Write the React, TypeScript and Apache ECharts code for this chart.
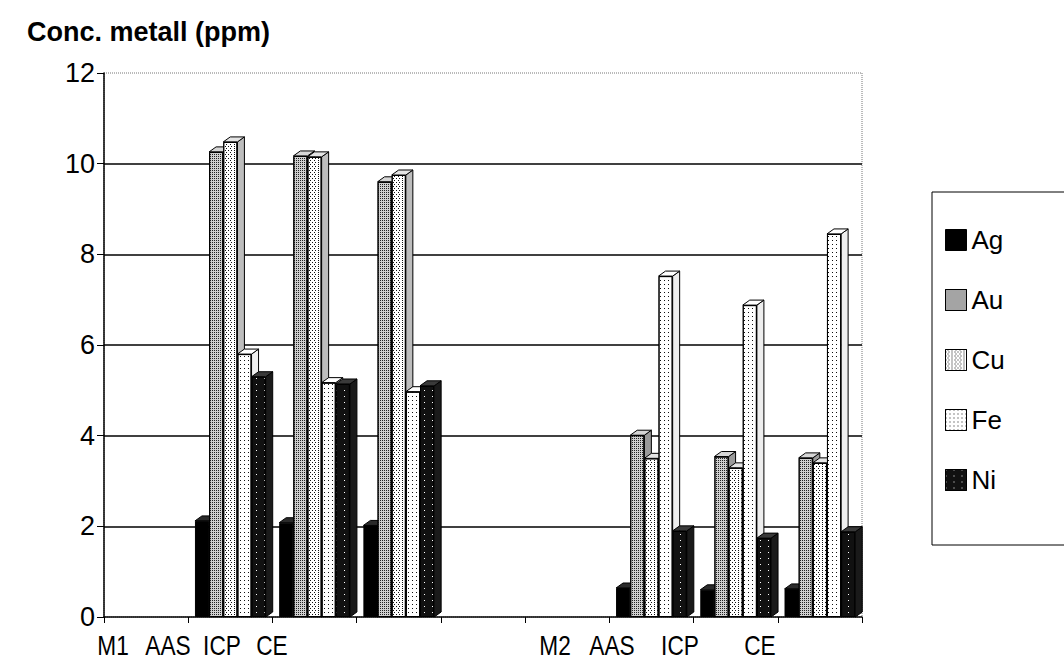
import React, { useEffect, useRef } from "react";
import * as echarts from "echarts";

// Categories along the x axis (the fifth slot is an empty spacer between the two samples)
const categories = ["M1", "AAS", "ICP", "CE", "", "M2", "AAS", "ICP", "CE"];
const metals = ["Ag", "Au", "Cu", "Fe", "Ni"];

// Concentrations in ppm per category; null = no bar
const ag = [null, 2.12, 2.08, 2.02, null, null, 0.64, 0.6, 0.62];
const au = [null, 10.26, 10.17, 9.6, null, null, 4.01, 3.54, 3.51];
const cu = [null, 10.48, 10.15, 9.75, null, null, 3.5, 3.29, 3.4];
const fe = [null, 5.8, 5.17, 4.97, null, null, 7.52, 6.88, 8.45];
const ni = [null, 5.3, 5.14, 5.1, null, null, 1.9, 1.74, 1.88];

const yTicks = [0, 2, 4, 6, 8, 10, 12];

// Layout constants
const FONT = "'Liberation Sans', Arial, sans-serif";
const CATEGORY_GAP = 0.16;
const DEPTH_X = 7;
const DEPTH_Y = -5;
// x positions (px) of the category captions under the axis
const captionX = [113, 168, 222, 272, null, 555, 612, 680, 760];

const seriesValues = [ag, au, cu, fe, ni];

// Front-face fill, decal pattern and 3D cap colours per metal
const faceStyles: any[] = [
  { color: "#000000", decal: null, top: "#2a2a2a", side: "#000000" },
  {
    color: "#cfcfcf",
    decal: { symbol: "rect", symbolSize: 1, color: "#222", dashArrayX: [1, 1], dashArrayY: [1, 1] },
    top: "#d6d6d6",
    side: "#9a9a9a",
  },
  {
    color: "#ffffff",
    decal: {
      symbol: "rect",
      symbolSize: 1,
      color: "#111",
      dashArrayX: [
        [1, 2],
        [0, 1.5, 1, 0.5],
      ],
      dashArrayY: [1, 1],
    },
    top: "#e4e4e4",
    side: "#bdbdbd",
  },
  {
    color: "#ffffff",
    decal: { symbol: "rect", symbolSize: 1, color: "#111", dashArrayX: [1, 3], dashArrayY: [1, 3] },
    top: "#ffffff",
    side: "#eeeeee",
  },
  {
    color: "#111111",
    decal: { symbol: "rect", symbolSize: 1, color: "#ffffff", dashArrayX: [1, 7], dashArrayY: [1, 5] },
    top: "#3a3a3a",
    side: "#1a1a1a",
  },
];

function capRenderer(k: number, topFill: string, sideFill: string) {
  return (params: any, api: any) => {
    const v = api.value(1);
    if (v == null || isNaN(v)) return null;
    const catW = api.size([1, 0])[0];
    const base = api.coord([api.value(0), 0]);
    const top = api.coord([api.value(0), v]);
    const groupW = catW * (1 - CATEGORY_GAP);
    const barW = groupW / metals.length;
    const x0 = base[0] - groupW / 2 + k * barW;
    const x1 = x0 + barW;
    const yT = top[1];
    const yB = base[1];
    return {
      type: "group",
      children: [
        {
          type: "polygon",
          shape: {
            points: [
              [x1, yT],
              [x1 + DEPTH_X, yT + DEPTH_Y],
              [x1 + DEPTH_X, yB + DEPTH_Y],
              [x1, yB],
            ],
          },
          style: { fill: sideFill, stroke: "#000", lineWidth: 1 },
        },
        {
          type: "polygon",
          shape: {
            points: [
              [x0, yT],
              [x1, yT],
              [x1 + DEPTH_X, yT + DEPTH_Y],
              [x0 + DEPTH_X, yT + DEPTH_Y],
            ],
          },
          style: { fill: topFill, stroke: "#000", lineWidth: 1 },
        },
      ],
    };
  };
}

export default function App() {
  const ref = useRef<HTMLDivElement>(null);

  useEffect(() => {
    document.body.style.margin = "0";
    const chart = echarts.init(ref.current!, null, { renderer: "svg" });

    const series: any[] = [];
    metals.forEach((name, k) => {
      const st = faceStyles[k];
      const vals = seriesValues[k];
      const itemStyle: any = { color: st.color, borderColor: "#000", borderWidth: 1 };
      if (st.decal) itemStyle.decal = st.decal;
      series.push({
        name,
        type: "bar",
        data: vals.map((v) => (v == null ? "-" : v)),
        barGap: "0%",
        barCategoryGap: CATEGORY_GAP * 100 + "%",
        itemStyle,
        emphasis: { disabled: true },
      });
      series.push({
        name,
        type: "custom",
        renderItem: capRenderer(k, st.top, st.side),
        data: vals
          .map((v, i) => (v == null ? null : [i, v]))
          .filter((d) => d !== null),
        encode: { x: 0, y: 1 },
        silent: true,
      });
    });

    // Condensed captions under the category axis
    const captionGraphics = categories
      .map((c, i) =>
        c && captionX[i] != null
          ? {
              type: "text",
              x: captionX[i],
              y: 645,
              scaleX: 0.84,
              style: {
                text: c,
                fill: "#000",
                font: `27px ${FONT}`,
                align: "center",
                verticalAlign: "middle",
              },
            }
          : null
      )
      .filter((g) => g !== null);

    chart.setOption({
      animation: false,
      backgroundColor: "#ffffff",
      title: {
        text: "Conc. metall (ppm)",
        left: 27,
        top: 18,
        padding: 0,
        textStyle: { fontSize: 27, fontWeight: "bold", fontFamily: FONT, color: "#000" },
      },
      grid: {
        left: 104,
        right: 202,
        top: 73,
        bottom: 49,
        show: true,
        borderColor: "#777",
        borderWidth: 1,
        borderType: "dotted",
      } as any,
      xAxis: {
        type: "category",
        data: categories,
        axisLine: { show: true, lineStyle: { color: "#000", width: 1.5 } },
        axisTick: { show: true, length: 6, alignWithLabel: false, lineStyle: { color: "#000" } },
        axisLabel: { show: false },
        splitLine: { show: false },
      },
      yAxis: {
        type: "value",
        min: yTicks[0],
        max: yTicks[yTicks.length - 1],
        interval: 2,
        axisLine: { show: true, lineStyle: { color: "#000", width: 1.5 } },
        axisTick: { show: true, length: 7, lineStyle: { color: "#000" } },
        axisLabel: { fontSize: 27, fontFamily: FONT, color: "#000", margin: 9 },
        splitLine: {
          show: true,
          lineStyle: {
            color: ["rgba(0,0,0,0)", "#000", "#000", "#000", "#000", "#000", "rgba(0,0,0,0)"],
            width: 1.5,
          },
        },
      },
      legend: {
        data: metals,
        orient: "vertical",
        left: 932,
        top: 192,
        itemWidth: 21,
        itemHeight: 21,
        itemGap: 34,
        padding: [35, 72, 52, 13],
        borderColor: "#000",
        borderWidth: 1,
        icon: "rect",
        selectedMode: false,
        itemStyle: { borderColor: "#000", borderWidth: 1 },
        textStyle: { fontSize: 26, fontFamily: FONT, color: "#000", lineHeight: 26 },
      },
      graphic: captionGraphics,
      series,
    });

    return () => chart.dispose();
  }, []);

  return (
    <div
      ref={ref}
      style={{ position: "fixed", left: 0, top: 0, width: 1064, height: 666 }}
    />
  );
}
